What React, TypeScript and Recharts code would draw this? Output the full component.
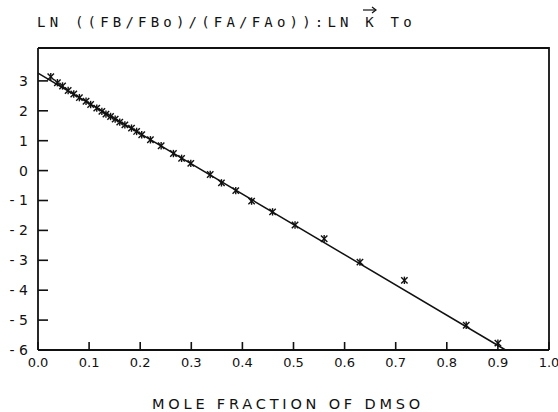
import React from "react";
import { ScatterChart, Scatter, XAxis, YAxis } from "recharts";

// ---------------------------------------------------------------------------
// Data
// ---------------------------------------------------------------------------

const moleFraction = [
  0.025, 0.038, 0.048, 0.059, 0.07, 0.081, 0.094, 0.103, 0.115, 0.125, 0.133,
  0.142, 0.151, 0.16, 0.17, 0.183, 0.193, 0.203, 0.22, 0.241, 0.265, 0.281,
  0.299, 0.337, 0.359, 0.387, 0.418, 0.459, 0.503, 0.56, 0.63, 0.717, 0.838,
  0.9,
];
const lnRatio = [
  3.14, 2.94, 2.83, 2.68, 2.56, 2.44, 2.32, 2.21, 2.09, 1.98, 1.89, 1.81,
  1.72, 1.62, 1.53, 1.42, 1.31, 1.2, 1.03, 0.83, 0.57, 0.41, 0.24, -0.13,
  -0.41, -0.67, -1.02, -1.38, -1.82, -2.28, -3.06, -3.67, -5.17, -5.77,
];
const fitX = [0, 0.915];
const fitY = [3.26, -6];

const xTicks = [0, 0.1, 0.2, 0.3, 0.4, 0.5, 0.6, 0.7, 0.8, 0.9, 1.0];
const yTicks = [-6, -5, -4, -3, -2, -1, 0, 1, 2, 3];
const yTop = 4.1;

const points = moleFraction.map((x, i) => ({ x, y: lnRatio[i] }));
const fitLine = fitX.map((x, i) => ({ x, y: fitY[i] }));

const FONT = "'DejaVu Sans', sans-serif";
const MONO = "'DejaVu Sans Mono', monospace";
const INK = "#111";

const CHART_W = 558;
const MARGIN_RIGHT = 9;

// ---------------------------------------------------------------------------
// Shapes
// ---------------------------------------------------------------------------

function Star({ cx, cy }: { cx?: number; cy?: number }) {
  if (cx == null || cy == null) return null;
  const r = 3.2;
  return (
    <g stroke={INK} strokeWidth={1.4}>
      <line x1={cx - r} y1={cy - r} x2={cx + r} y2={cy + r} />
      <line x1={cx - r} y1={cy + r} x2={cx + r} y2={cy - r} />
      <line x1={cx} y1={cy - r - 0.5} x2={cx} y2={cy + r + 0.5} />
    </g>
  );
}

function XTick({ x, y, payload }: any) {
  return (
    <g>
      <line x1={x} y1={y} x2={x} y2={y - 8} stroke={INK} strokeWidth={1.6} />
      <text x={x} y={y + 17} textAnchor="middle" fontSize={13} fontFamily={FONT} fill={INK}>
        {Number(payload.value).toFixed(1)}
      </text>
    </g>
  );
}

function YTick({ x, y, payload, index, height }: any) {
  const v = Number(payload.value);
  // the lowest tick sits on the bottom edge; it also draws the top/right box edges
  const right = CHART_W - MARGIN_RIGHT;
  const top = typeof height === "number" ? y - height : null;
  return (
    <g>
      <line x1={x} y1={y} x2={x + 10} y2={y} stroke={INK} strokeWidth={1.6} />
      <text x={x - 10} y={y + 5} textAnchor="end" fontSize={14} fontFamily={FONT} fill={INK}>
        {v < 0 ? `- ${Math.abs(v)}` : v}
      </text>
      {index === 0 && top != null && (
        <polyline
          points={`${x},${top} ${right},${top} ${right},${y}`}
          fill="none"
          stroke={INK}
          strokeWidth={1.8}
        />
      )}
    </g>
  );
}

// ---------------------------------------------------------------------------
// Component
// ---------------------------------------------------------------------------

export default function App() {
  return (
    <div style={{ position: "absolute", left: 0, top: 0, width: 558, height: 412, background: "#fff" }}>
      {/* Title */}
      <svg width={558} height={35} style={{ display: "block" }}>
        <text x={37} y={27} fontSize={14} fontFamily={MONO} fill={INK} style={{ letterSpacing: "4.2px" }}>
          {"LN ((FB/FBo)/(FA/FAo)):LN K  To"}
        </text>
        <g stroke={INK} strokeWidth={1.2} fill="none">
          <line x1={363} y1={10} x2={376} y2={10} />
          <polyline points="372,7 376,10 372,13" />
        </g>
      </svg>

      <ScatterChart width={CHART_W} height={355} margin={{ top: 13, right: MARGIN_RIGHT, left: 0, bottom: 0 }}>
        <XAxis
          type="number"
          dataKey="x"
          domain={[0, 1]}
          ticks={xTicks}
          tickSize={0}
          tickMargin={0}
          height={40}
          tick={<XTick />}
          axisLine={{ stroke: INK, strokeWidth: 1.8 }}
          tickLine={false}
          interval={0}
        />
        <YAxis
          type="number"
          dataKey="y"
          domain={[-6, yTop]}
          ticks={yTicks}
          width={38}
          tickSize={0}
          tickMargin={0}
          tick={<YTick />}
          tickLine={false}
          axisLine={{ stroke: INK, strokeWidth: 1.8 }}
          interval={0}
        />
        <Scatter
          data={fitLine}
          line={{ stroke: INK, strokeWidth: 1.5 }}
          shape={() => null}
          isAnimationActive={false}
        />
        <Scatter data={points} shape={<Star />} isAnimationActive={false} />
      </ScatterChart>

      {/* Axis caption */}
      <svg width={558} height={22} style={{ display: "block" }}>
        <text
          x={288}
          y={19}
          textAnchor="middle"
          fontSize={14.5}
          fontFamily={FONT}
          fill={INK}
          style={{ letterSpacing: "3.8px" }}
        >
          MOLE FRACTION OF DMSO
        </text>
      </svg>
    </div>
  );
}
